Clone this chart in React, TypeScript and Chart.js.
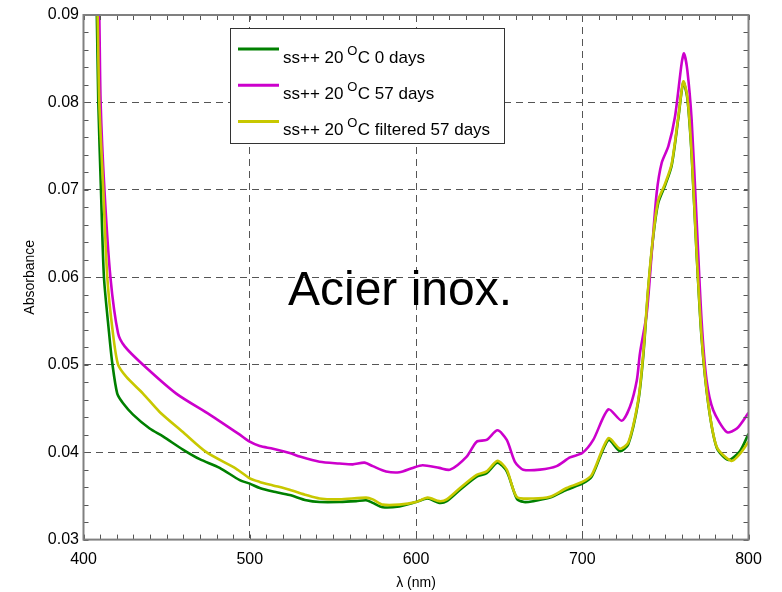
import React, { useEffect, useRef } from "react";
import { Chart, registerables } from "chart.js";

Chart.register(...registerables);

// ---- data ----
const seriesLabels = ["0 days", "57 days", "filtered 57 days"];
const seriesPrefix = "ss++ 20 ";
const seriesColors = ["#008000", "#cc00cc", "#c8c800"];

const wl0 = [407.5, 408.0, 408.9, 410.5, 412.3, 415.3, 417.3, 420.3, 423.8, 429.8, 439.8, 447.8, 459.8, 469.9, 481.9, 494, 500, 506, 514, 524, 534, 542, 554, 564, 570, 574, 580, 590, 600, 607, 614, 618.5, 626.5, 636.5, 642.5, 649, 654.6, 660.6, 665, 670.6, 680.6, 690.6, 700, 705.7, 715.7, 722.7, 727.7, 733.7, 736.7, 739.7, 742.8, 745.7, 749.8, 753.8, 757.8, 760.8, 763.2, 765.8, 768.8, 771.8, 775.8, 780.9, 787.9, 794.8, 800];
const abs0 = [0.092, 0.09, 0.08, 0.07, 0.06, 0.0538, 0.0502, 0.0467, 0.0456, 0.0443, 0.0427, 0.0418, 0.0403, 0.0392, 0.0382, 0.0368, 0.0364, 0.0359, 0.0355, 0.0351, 0.0345, 0.0343, 0.0343, 0.0344, 0.0345, 0.0342, 0.0337, 0.0338, 0.0343, 0.0347, 0.0342, 0.0344, 0.0357, 0.0372, 0.0376, 0.0388, 0.0378, 0.0347, 0.0343, 0.0344, 0.0348, 0.0357, 0.0364, 0.0372, 0.0414, 0.0401, 0.0409, 0.0458, 0.051, 0.0587, 0.0648, 0.0685, 0.0705, 0.0728, 0.0782, 0.0823, 0.0805, 0.074, 0.0626, 0.053, 0.0455, 0.0405, 0.0391, 0.0401, 0.0421];

const wl57 = [408.8, 409.5, 410.3, 412.6, 416.2, 420.8, 424.8, 435.8, 455.8, 475.9, 494, 500, 506, 514, 524, 530, 542, 554, 562, 569, 574, 582, 590, 598, 604, 614, 620.5, 630.5, 636.5, 642.5, 649, 654.6, 659.5, 664.5, 674.6, 684.6, 692.6, 700, 706.6, 715.7, 723.7, 728.7, 732.8, 734.7, 738.8, 741.8, 744.8, 747.8, 751.8, 755.8, 759.8, 761.2, 763.2, 765.8, 768.8, 771.8, 774.8, 778.8, 786.9, 793, 800];
const abs57 = [0.094, 0.09, 0.08, 0.07, 0.06, 0.0536, 0.0521, 0.05, 0.0467, 0.0443, 0.042, 0.0412, 0.0407, 0.0404, 0.0399, 0.0395, 0.0389, 0.0387, 0.0386, 0.0388, 0.0384, 0.0378, 0.0377, 0.0382, 0.0385, 0.0382, 0.038, 0.0395, 0.0412, 0.0414, 0.0425, 0.0414, 0.0389, 0.038, 0.038, 0.0384, 0.0394, 0.0399, 0.0414, 0.0449, 0.0436, 0.0452, 0.0482, 0.0513, 0.0559, 0.0628, 0.0697, 0.0731, 0.075, 0.0784, 0.0845, 0.0856, 0.0837, 0.078, 0.0665, 0.055, 0.0482, 0.0448, 0.0423, 0.0427, 0.0445];

const wlF = [407.9, 408.5, 409.5, 411.9, 414.3, 417.7, 420.8, 425.8, 435.8, 445.8, 459.8, 473.9, 491.9, 500, 506, 514, 524, 534, 542, 554, 570, 574, 580, 590, 600, 607, 614, 618.5, 626.5, 636.5, 642.5, 649, 654.6, 660.6, 670.6, 680.6, 690.6, 700, 705.7, 715.7, 722.7, 727.7, 733.7, 736.7, 739.7, 742.8, 745.7, 749.8, 753.8, 757.8, 760.8, 763.2, 765.8, 768.8, 771.8, 775.8, 780.9, 789.8, 794.8, 800];
const absF = [0.093, 0.09, 0.08, 0.07, 0.06, 0.0536, 0.05, 0.0486, 0.0467, 0.0446, 0.0423, 0.04, 0.0381, 0.037, 0.0366, 0.0362, 0.0357, 0.0351, 0.0347, 0.0346, 0.0348, 0.0346, 0.034, 0.034, 0.0343, 0.0348, 0.0344, 0.0346, 0.0359, 0.0374, 0.0378, 0.039, 0.038, 0.0349, 0.0347, 0.0349, 0.0359, 0.0366, 0.0374, 0.0416, 0.0404, 0.0411, 0.046, 0.0513, 0.0589, 0.065, 0.0688, 0.0707, 0.073, 0.0784, 0.0824, 0.0807, 0.0742, 0.0628, 0.0532, 0.0456, 0.0406, 0.039, 0.0398, 0.0412];

const xMin = 400;
const xMax = 800;
const xStep = 100;
const xMinorStep = 10;
const yMin = 0.03;
const yMax = 0.09;
const yStep = 0.01;
const yMinorStep = 0.002;
const xTitle = "λ (nm)";
const yTitle = "Absorbance";
const annotationText = "Acier inox.";
const annotationAt = [523, 0.0568];

const FONT = "'Liberation Sans', Arial, Helvetica, sans-serif";

const framePlugin = {
  id: "frameTicksLegend",
  afterDraw(chart: any) {
    const ctx = chart.ctx;
    const { left, right, top, bottom } = chart.chartArea;
    const xs = chart.scales.x;
    const ys = chart.scales.y;
    ctx.save();
    // minor ticks inside the frame
    ctx.strokeStyle = "#555";
    ctx.lineWidth = 1;
    ctx.beginPath();
    for (let v = xMin; v <= xMax + 1e-9; v += xMinorStep) {
      const px = Math.round(xs.getPixelForValue(v)) + 0.5;
      ctx.moveTo(px, bottom);
      ctx.lineTo(px, bottom - 5);
      ctx.moveTo(px, top);
      ctx.lineTo(px, top + 5);
    }
    for (let v = yMin; v <= yMax + 1e-9; v += yMinorStep) {
      const py = Math.round(ys.getPixelForValue(v)) + 0.5;
      ctx.moveTo(left, py);
      ctx.lineTo(left + 5, py);
      ctx.moveTo(right, py);
      ctx.lineTo(right - 5, py);
    }
    ctx.stroke();
    // frame
    ctx.strokeStyle = "#808080";
    ctx.lineWidth = 2;
    ctx.strokeRect(left, top, right - left, bottom - top);

    // annotation
    ctx.fillStyle = "#000";
    ctx.font = `48px ${FONT}`;
    ctx.textAlign = "left";
    ctx.textBaseline = "alphabetic";
    ctx.fillText(annotationText, xs.getPixelForValue(annotationAt[0]), ys.getPixelForValue(annotationAt[1]));

    // legend box
    const lx = 230, ly = 28, lw = 274, lh = 115;
    ctx.fillStyle = "#fff";
    ctx.fillRect(lx, ly, lw, lh);
    ctx.strokeStyle = "#333";
    ctx.lineWidth = 1;
    ctx.strokeRect(lx + 0.5, ly + 0.5, lw, lh);
    seriesLabels.forEach((lab, i) => {
      const yLine = ly + 21 + i * 36.2;
      ctx.strokeStyle = seriesColors[i];
      ctx.lineWidth = 3;
      ctx.beginPath();
      ctx.moveTo(238, yLine);
      ctx.lineTo(279, yLine);
      ctx.stroke();
      const base = yLine + 13.5;
      ctx.fillStyle = "#000";
      ctx.font = `17px ${FONT}`;
      let x = 283;
      ctx.fillText(seriesPrefix, x, base);
      x += ctx.measureText(seriesPrefix).width - 1;
      ctx.font = `13px ${FONT}`;
      ctx.fillText("O", x, base - 8);
      x += ctx.measureText("O").width + 0.5;
      ctx.font = `17px ${FONT}`;
      ctx.fillText("C " + lab, x, base);
    });
    ctx.restore();
  },
};

export default function App() {
  const ref = useRef<HTMLCanvasElement | null>(null);
  useEffect(() => {
    if (!ref.current) return;
    const mk = (xs: number[], ys: number[]) => xs.map((x, i) => ({ x, y: ys[i] }));
    const chart = new Chart(ref.current, {
      type: "line",
      data: {
        datasets: [
          { label: seriesLabels[0], data: mk(wl0, abs0), borderColor: seriesColors[0], order: 2 },
          { label: seriesLabels[1], data: mk(wl57, abs57), borderColor: seriesColors[1], order: 1 },
          { label: seriesLabels[2], data: mk(wlF, absF), borderColor: seriesColors[2], order: 0 },
        ].map((d) => ({ ...d, borderWidth: 2.6, pointRadius: 0, tension: 0.25, fill: false })),
      },
      options: {
        responsive: false,
        animation: false,
        events: [],
        layout: { padding: { top: 15, right: 33.5, left: 0, bottom: 0 } },
        plugins: { legend: { display: false }, tooltip: { enabled: false } },
        scales: {
          x: {
            type: "linear",
            min: xMin,
            max: xMax,
            afterFit: (s: any) => { s.height = 52.4; },
            ticks: { stepSize: xStep, color: "#000", font: { size: 16, family: FONT }, padding: 10, maxRotation: 0 },
            grid: { color: "#555", drawTicks: false, lineWidth: 1 },
            border: { display: false, dash: [7, 5] },
            title: { display: true, text: xTitle, color: "#000", font: { size: 14, family: FONT }, padding: { top: 4, bottom: 0 } },
          },
          y: {
            type: "linear",
            min: yMin,
            max: yMax,
            afterFit: (s: any) => { s.width = 83.5; },
            ticks: { stepSize: yStep, color: "#000", font: { size: 16, family: FONT }, padding: 4.5, callback: (v: any) => Number(v).toFixed(2) },
            grid: { color: "#555", drawTicks: false, lineWidth: 1 },
            border: { display: false, dash: [7, 5] },
            title: { display: true, text: yTitle, color: "#000", font: { size: 14, family: FONT }, padding: { top: 22, bottom: 0 } },
          },
        },
      },
      plugins: [framePlugin],
    } as any);
    return () => chart.destroy();
  }, []);
  return (
    <div style={{ position: "absolute", left: 0, top: 0, width: 782, height: 592, background: "#fff" }}>
      <canvas ref={ref} width={782} height={592} />
    </div>
  );
}
